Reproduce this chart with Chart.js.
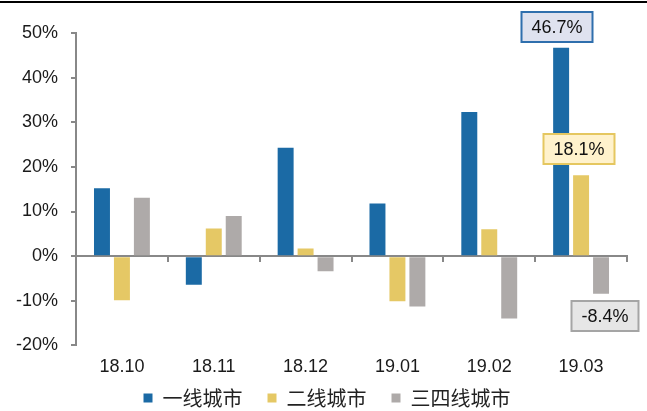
<!DOCTYPE html>
<html>
<head>
<meta charset="utf-8">
<script src="https://cdn.jsdelivr.net/npm/chart.js@4.4.1/dist/chart.umd.min.js"></script>
<style>
  html, body { margin: 0; padding: 0; background: #fff; }
  #wrap { position: relative; width: 647px; height: 411px; }
  #topRule { position: absolute; left: 0; top: 1px; width: 647px; height: 2px; background: #000; }
  canvas { display: block; }
</style>
</head>
<body>
<div id="wrap">
  <canvas id="c" width="647" height="411"></canvas>
  <div id="topRule"></div>
</div>
<script>
// Month labels and growth rates (%) by city tier
const months = ['18.10', '18.11', '18.12', '19.01', '19.02', '19.03'];
const tier1 = [15.2, -6.4, 24.3, 11.8, 32.3, 46.7];
const tier2 = [-9.9, 6.2, 1.7, -10.1, 6.0, 18.1];
const tier34 = [13.1, 9.0, -3.4, -11.3, -14.0, -8.4];
const seriesNames = ['一线城市', '二线城市', '三四线城市'];
const yTicks = [-20, -10, 0, 10, 20, 30, 40, 50];

// Callout boxes on the latest month: dataset index, fill, border, horizontal nudge
const callouts = [
  { ds: 0, fill: '#dfe2ef', stroke: '#2f6fad', dx: -4, above: true, gap: 6 },
  { ds: 1, fill: '#fff2cc', stroke: '#e5c760', dx: -2, above: true, gap: 11 },
  { ds: 2, fill: '#e6e6e6', stroke: '#a5a5a5', dx: 4, above: false, gap: 7 }
];

const axisGray = '#888888';
const textColor = '#1a1a1a';
const latinFont = '"Liberation Sans", Arial, sans-serif';

const calloutPlugin = {
  id: 'callouts',
  afterDatasetsDraw(chart) {
    const ctx = chart.ctx;
    const last = months.length - 1;
    ctx.save();
    ctx.font = '18px ' + latinFont;
    ctx.textAlign = 'center';
    ctx.textBaseline = 'middle';
    callouts.forEach(c => {
      const bar = chart.getDatasetMeta(c.ds).data[last];
      const value = chart.data.datasets[c.ds].data[last];
      const text = value.toFixed(1) + '%';
      const w = Math.round(ctx.measureText(text).width + 20);
      const h = 30;
      const cx = Math.round(bar.x + c.dx);
      const top = Math.round(c.above ? bar.y - c.gap - h : bar.y + c.gap);
      ctx.fillStyle = c.fill;
      ctx.fillRect(cx - w / 2, top, w, h);
      ctx.lineWidth = 2;
      ctx.strokeStyle = c.stroke;
      ctx.strokeRect(cx - w / 2, top, w, h);
      ctx.fillStyle = '#111';
      ctx.fillText(text, cx, top + h / 2 + 1);
    });
    ctx.restore();
  }
};

// Pull the legend row up under the month labels and centre it a little to the right
const legendPlacement = {
  id: 'legendPlacement',
  afterLayout(chart) {
    const lg = chart.legend;
    if (!lg) return;
    const h = lg.bottom - lg.top;
    lg.top = 363;
    lg.bottom = 363 + h;
    lg.left += 12;
    lg.right += 12;
  }
};

new Chart(document.getElementById('c'), {
  type: 'bar',
  data: {
    labels: months,
    datasets: [
      { label: seriesNames[0], data: tier1, backgroundColor: '#1b6aa5' },
      { label: seriesNames[1], data: tier2, backgroundColor: '#e5c865' },
      { label: seriesNames[2], data: tier34, backgroundColor: '#aeaaa9' }
    ]
  },
  options: {
    responsive: false,
    animation: false,
    events: [],
    categoryPercentage: 0.652,
    barPercentage: 0.8,
    layout: { padding: { top: 33, right: 20, left: 3, bottom: -33 } },
    plugins: {
      tooltip: { enabled: false },
      legend: {
        position: 'bottom',
        labels: {
          boxWidth: 9,
          boxHeight: 9,
          padding: 25,
          color: '#222',
          font: { family: '"Noto Sans CJK SC", sans-serif', size: 20 }
        }
      }
    },
    scales: {
      x: {
        type: 'category',
        offset: true,
        border: { display: false },
        grid: { display: false, drawTicks: false },
        ticks: {
          padding: 11,
          color: textColor,
          font: { family: latinFont, size: 18 }
        }
      },
      xZero: {
        type: 'category',
        axis: 'x',
        position: { y: 0 },
        offset: true,
        afterFit(scale) { scale.height = 0; },
        border: { display: true, color: axisGray, width: 2 },
        grid: { offset: true, drawOnChartArea: false, drawTicks: true, tickLength: 5, color: axisGray, lineWidth: 2 },
        ticks: { display: false }
      },
      y: {
        min: yTicks[0],
        max: yTicks[yTicks.length - 1],
        afterBuildTicks(scale) { scale.ticks = yTicks.map(v => ({ value: v })); },
        border: { display: true, color: axisGray, width: 2 },
        grid: { drawOnChartArea: false, drawTicks: true, tickLength: 5, color: axisGray, lineWidth: 2 },
        ticks: {
          padding: 13,
          color: textColor,
          font: { family: latinFont, size: 18 },
          callback: v => v + '%'
        }
      }
    }
  },
  plugins: [calloutPlugin, legendPlacement]
});
</script>
</body>
</html>
